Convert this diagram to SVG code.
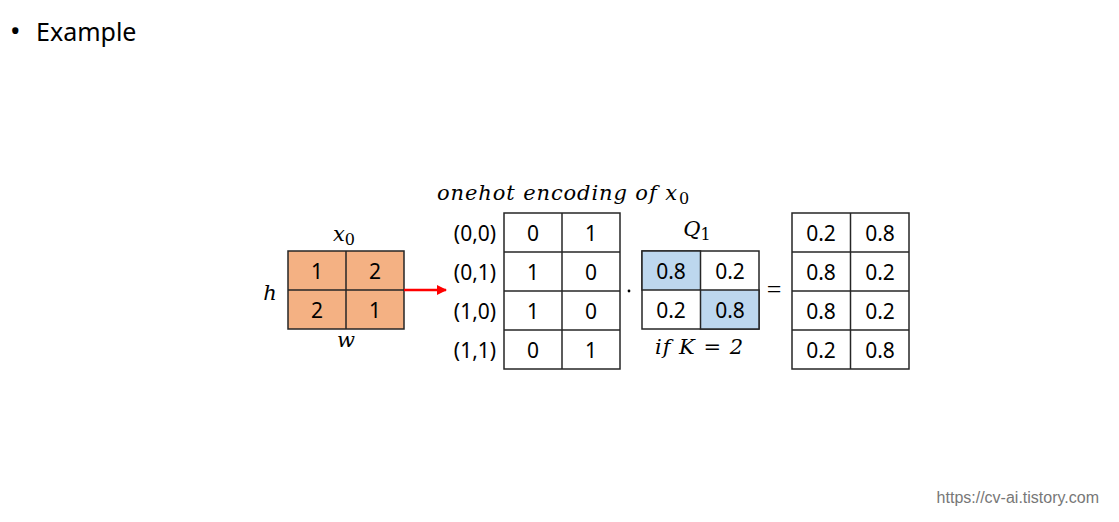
<svg xmlns="http://www.w3.org/2000/svg" width="1119" height="522" viewBox="0 0 1119 522">
<defs>
<marker id="ah" markerWidth="10" markerHeight="10" refX="9" refY="5" orient="auto" markerUnits="userSpaceOnUse"><path d="M0,0 L10,5 L0,10 Z" fill="#ff0000"/></marker>
<style>
.g{stroke:#262626;stroke-width:1.5;fill:#fff}
.o{fill:#f4b183}
.b{fill:#bdd7ee}
.n{font-family:"Noto Sans","Open Sans",sans-serif;font-size:21px;fill:#000;text-anchor:middle}
.m{font-family:"DejaVu Serif","Liberation Serif",serif;font-style:italic;font-size:21px;fill:#000;text-anchor:middle}
</style>
</defs>
<rect width="1119" height="522" fill="#fff"/>
<text x="10" y="41" style="font-family:'Noto Sans',sans-serif;font-size:28px">•</text>
<text x="36" y="41" style="font-family:'Noto Sans',sans-serif;font-size:25px">Example</text>
<text x="1099" y="503" text-anchor="end" style="font-family:'Liberation Sans',sans-serif;font-size:16px;fill:#777">https://cv-ai.tistory.com</text>

<g id="x0">
<rect x="288" y="251" width="116" height="78" class="g o"/>
<line x1="346" y1="251" x2="346" y2="329" class="g"/>
<line x1="288" y1="290" x2="404" y2="290" class="g"/>
<text x="317" y="279" class="n">1</text><text x="375" y="279" class="n">2</text>
<text x="317" y="318" class="n">2</text><text x="375" y="318" class="n">1</text>
<text x="344" y="241" class="m">x<tspan font-style="normal" font-size="16" dy="4">0</tspan></text>
<text x="270" y="300" class="m">h</text>
<text x="346" y="347" class="m">w</text>
</g>

<g id="onehot">
<rect x="504" y="213" width="116" height="156" class="g"/>
<line x1="562" y1="213" x2="562" y2="369" class="g"/>
<line x1="504" y1="252" x2="620" y2="252" class="g"/>
<line x1="504" y1="291" x2="620" y2="291" class="g"/>
<line x1="504" y1="330" x2="620" y2="330" class="g"/>
<text x="533" y="241" class="n">0</text><text x="591" y="241" class="n">1</text>
<text x="533" y="280" class="n">1</text><text x="591" y="280" class="n">0</text>
<text x="533" y="319" class="n">1</text><text x="591" y="319" class="n">0</text>
<text x="533" y="358" class="n">0</text><text x="591" y="358" class="n">1</text>
<text x="475" y="241" class="n">(0,0)</text>
<text x="475" y="280" class="n">(0,1)</text>
<text x="475" y="319" class="n">(1,0)</text>
<text x="475" y="358" class="n">(1,1)</text>
<text x="437" y="200" class="m" style="text-anchor:start" textLength="240" lengthAdjust="spacing">onehot encoding of x</text><text x="679" y="204" style="font-family:'DejaVu Serif',serif;font-size:16px">0</text>
</g>

<g id="q1">
<rect x="642" y="251" width="117" height="78" class="g"/>
<rect x="642" y="251" width="58.5" height="39" class="g b"/>
<rect x="700.5" y="290" width="58.5" height="39" class="g b"/>
<text x="671" y="279" class="n">0.8</text><text x="730" y="279" class="n">0.2</text>
<text x="671" y="318" class="n">0.2</text><text x="730" y="318" class="n">0.8</text>
<text x="697" y="236" class="m">Q<tspan font-style="normal" font-size="16" dy="4">1</tspan></text>
<text x="655" y="354" class="m" style="text-anchor:start" textLength="88" lengthAdjust="spacing">if K = 2</text>
</g>

<g id="result">
<rect x="792" y="213" width="117" height="156" class="g"/>
<line x1="850.5" y1="213" x2="850.5" y2="369" class="g"/>
<line x1="792" y1="252" x2="909" y2="252" class="g"/>
<line x1="792" y1="291" x2="909" y2="291" class="g"/>
<line x1="792" y1="330" x2="909" y2="330" class="g"/>
<text x="821" y="241" class="n">0.2</text><text x="880" y="241" class="n">0.8</text>
<text x="821" y="280" class="n">0.8</text><text x="880" y="280" class="n">0.2</text>
<text x="821" y="319" class="n">0.8</text><text x="880" y="319" class="n">0.2</text>
<text x="821" y="358" class="n">0.2</text><text x="880" y="358" class="n">0.8</text>
</g>

<g id="connectors">
<line x1="404" y1="290" x2="446" y2="290" stroke="#ff0000" stroke-width="2.5" marker-end="url(#ah)"/>
<circle cx="629" cy="291" r="1.4" fill="#000"/>
<text x="774" y="298" style="font-family:'Liberation Serif',serif;font-size:26px;text-anchor:middle">=</text>
</g>
</svg>
